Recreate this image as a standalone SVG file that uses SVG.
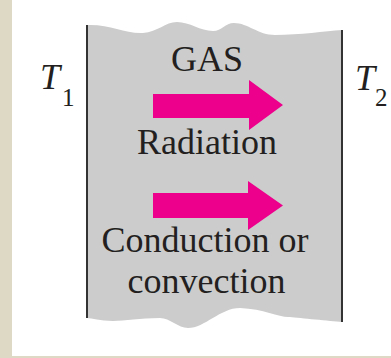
<svg xmlns="http://www.w3.org/2000/svg" width="391" height="358" viewBox="0 0 391 358">
<style>
.t{font-size:36px;fill:#231f20;text-anchor:middle}
.ti{font-style:italic;font-size:36px;fill:#231f20}
.sub{font-size:25px;fill:#231f20}
.wall{stroke:#333;stroke-width:2;fill:none}
.arrow{fill:#ec008c}
</style>
<rect x="0" y="0" width="391" height="358" fill="#ffffff"/>
<rect x="0" y="0" width="12" height="358" fill="#ddd9c4"/>
<rect x="0" y="356" width="391" height="2" fill="#ddd9c4"/>
<g font-family="Liberation Serif, Times New Roman, serif">
<g id="gas">
<path d="M87,25 C110,24 125,34 143,33 C158,32 165,22 177,22 C190,22 200,31 213,31 C222,31 225,23 234,23 C248,23 258,35 275,35 C300,35 325,31 342,30 L342,322 C330,321 300,318 290,317 C280,318 265,309 240,308 C220,308 205,328 188,328 C178,328 170,318 160,318 C140,318 125,321 113,321 C100,321 92,318 87,318 Z" fill="#cccccc"/>
<text class="t" x="207" y="71">GAS</text>
</g>
<g id="wall-left"><line class="wall" x1="87" y1="25" x2="87" y2="318"/></g>
<g id="wall-right"><line class="wall" x1="342" y1="30" x2="342" y2="322"/></g>
<g id="T1"><text class="ti" x="40" y="89">T</text><text class="sub" x="62" y="106">1</text></g>
<g id="T2"><text class="ti" x="355" y="90">T</text><text class="sub" x="375" y="106">2</text></g>
<g id="connectors">
<path class="arrow" d="M153,94 L249,94 L249,80 L283,105 L249,130 L249,118 L153,118 Z"/>
<path class="arrow" d="M153,193 L248,193 L248,181 L283,205.5 L248,230 L248,218 L153,218 Z"/>
</g>
<g id="radiation"><text class="t" x="207" y="154">Radiation</text></g>
<g id="conduction"><text class="t" x="205" y="252">Conduction or</text><text class="t" x="206.5" y="293">convection</text></g>
</g>
</svg>
